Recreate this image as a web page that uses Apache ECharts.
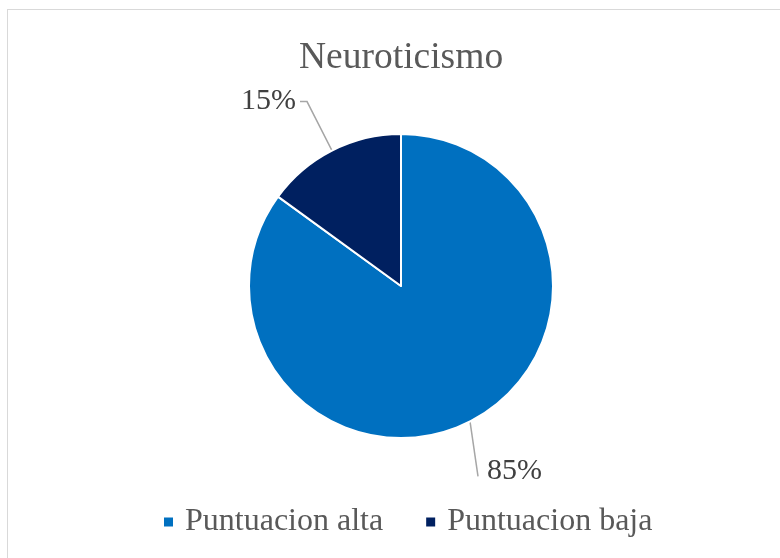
<!DOCTYPE html>
<html>
<head>
<meta charset="utf-8">
<script src="https://cdn.jsdelivr.net/npm/echarts@6/dist/echarts.min.js"></script>
<style>
  html, body { margin: 0; padding: 0; overflow: hidden; background: #fff; }
  #frame { position: absolute; left: 7px; top: 9px; width: 800px; height: 600px; border: 1.5px solid #d9d9d9; }
  #main { position: absolute; left: 0; top: 0; width: 780px; height: 558px; }
</style>
</head>
<body>
<div id="frame"></div>
<div id="main"></div>
<script type="text/javascript">
    // datos del grafico
    var categorias = ['Puntuacion alta', 'Puntuacion baja'];
    var valores = [85, 15];
    var colores = ['#0070C0', '#002060'];

    var myChart = echarts.init(document.getElementById('main'));

    var datos = [];
    for (var i = 0; i < categorias.length; i++) {
        datos.push({ name: categorias[i], value: valores[i], itemStyle: { color: colores[i] } });
    }

    var option = {
        animation: false,
        title: {
            text: 'Neuroticismo',
            left: 294,
            top: 34,
            textStyle: {
                fontFamily: 'Liberation Serif',
                fontSize: 37.5,
                fontWeight: 'normal',
                color: '#595959'
            }
        },
        legend: {
            bottom: 15,
            left: 157,
            itemWidth: 11,
            itemHeight: 11,
            itemGap: 41,
            icon: 'rect',
            textStyle: {
                fontFamily: 'Liberation Serif',
                fontSize: 32,
                color: '#595959',
                padding: [0, 0, 0, 6]
            },
            data: categorias
        },
        series: [{
            type: 'pie',
            center: [401, 286],
            radius: 152,
            startAngle: 90,
            clockwise: true,
            itemStyle: { borderColor: '#fff', borderWidth: 2 },
            label: {
                show: true,
                formatter: '{c}%',
                fontFamily: 'Liberation Serif',
                fontSize: 30,
                color: '#404040',
                distanceToLabelLine: 4
            },
            labelLine: {
                show: true,
                length: 55,
                length2: 7,
                lineStyle: { color: '#a6a6a6', width: 1.5 }
            },
            // la linea de la etiqueta grande baja casi vertical, como en el original
            labelLayout: function (params) {
                if (params.dataIndex === 0 && params.labelLinePoints) {
                    var p0 = params.labelLinePoints[0];
                    var p1 = [p0[0] + 8, p0[1] + 55];
                    return {
                        x: p1[0] + 9,
                        y: p1[1] - 5,
                        align: 'left',
                        verticalAlign: 'middle',
                        labelLinePoints: [p0, p1, p1]
                    };
                }
                return {};
            },
            emphasis: { disabled: true },
            data: datos
        }]
    };
    myChart.setOption(option);
</script>
</body>
</html>
